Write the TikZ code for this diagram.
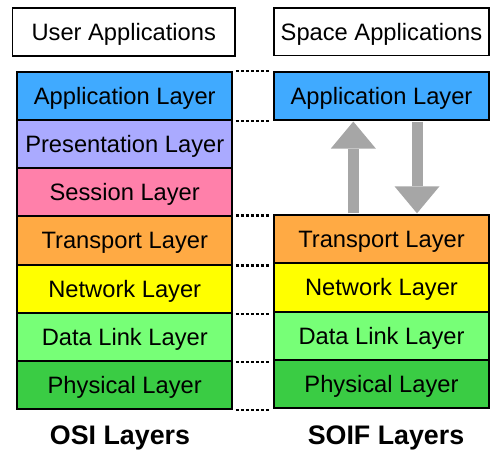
\documentclass[tikz,border=0pt]{standalone}
\usepackage{fontspec}
\setmainfont{Liberation Sans}
\usetikzlibrary{arrows.meta}

\definecolor{appblue}{RGB}{64,170,255}
\definecolor{preslilac}{RGB}{170,170,255}
\definecolor{sesspink}{RGB}{255,128,170}
\definecolor{transorange}{RGB}{255,170,68}
\definecolor{netyellow}{RGB}{255,255,0}
\definecolor{linkgreen}{RGB}{119,255,119}
\definecolor{physgreen}{RGB}{58,204,68}
\definecolor{arrowgray}{RGB}{166,166,166}

\tikzset{
  layerbox/.style={draw=black, line width=2pt, minimum width=215pt, minimum height=48.15pt,
    inner sep=0pt, text height=16.9pt, text depth=0pt, font=\fontsize{23.7}{26}\selectfont},
  headbox/.style={draw=black, line width=1.6pt, minimum height=48pt, inner sep=0pt,
    text height=16.9pt, text depth=0pt, font=\fontsize{23.7}{26}\selectfont},
  stacktitle/.style={inner sep=0pt, text height=19.2pt, text depth=0pt,
    font=\bfseries\fontsize{26.8}{30}\selectfont},
  levelline/.style={line width=2.3pt, dash pattern=on 3pt off 2pt, shorten <=2.5pt, shorten >=3.5pt},
  blockarrow/.style={draw=arrowgray, line width=11pt,
    -{Triangle[width=45pt,length=27pt,line width=0pt]}, shorten <=1pt, shorten >=1pt},
}

\begin{document}
\begin{tikzpicture}[x=1pt, y=-1pt]
            \useasboundingbox (0,0) rectangle (490,451);
            % headers
            \node[headbox, minimum width=222.5pt] (uApps) at (123.75,32) {User Applications};
            \node[headbox, minimum width=215pt, minimum height=47.5pt] (sApps) at (381.5,31.75) {Space Applications};
            % OSI stack
            \node[layerbox, fill=appblue] (oApp) at (124.75,96.075) {Application Layer};
            \node[layerbox, fill=preslilac] (oPre) at (124.75,144.225) {Presentation Layer};
            \node[layerbox, fill=sesspink] (oSes) at (124.75,192.375) {Session Layer};
            \node[layerbox, fill=transorange] (oTra) at (124.75,240.525) {Transport Layer};
            \node[layerbox, fill=netyellow] (oNet) at (124.75,288.675) {Network Layer};
            \node[layerbox, fill=linkgreen] (oLnk) at (124.75,336.825) {Data Link Layer};
            \node[layerbox, fill=physgreen] (oPhy) at (124.75,384.975) {Physical Layer};
            % SOIF stack
            \node[layerbox, fill=appblue, minimum height=47.5pt] (sApp) at (381.5,95.8) {Application Layer};
            \node[layerbox, fill=transorange] (sTra) at (381.5,239.4) {Transport Layer};
            \node[layerbox, fill=netyellow] (sNet) at (381.5,287.5) {Network Layer};
            \node[layerbox, fill=linkgreen] (sLnk) at (381.5,335.7) {Data Link Layer};
            \node[layerbox, fill=physgreen] (sPhy) at (381.5,383.8) {Physical Layer};
            % titles
            \node[stacktitle] (oTitle) at (120,435.3) {OSI Layers};
            \node[stacktitle] (sTitle) at (386,435.3) {SOIF Layers};
            % level lines
            \draw[levelline] (oApp.north east) -- (oApp.north east -| sApp.west);
            \draw[levelline] (oApp.south east) -- (oApp.south east -| sApp.west);
            \draw[levelline] (oTra.north east) -- (oTra.north east -| sTra.west);
            \draw[levelline] (oTra.south east) -- (oTra.south east -| sTra.west);
            \draw[levelline] (oNet.south east) -- (oNet.south east -| sNet.west);
            \draw[levelline] (oLnk.south east) -- (oLnk.south east -| sLnk.west);
            \draw[levelline] (oPhy.south east) -- (oPhy.south east -| sPhy.west);
            % up and down
            \draw[blockarrow] ([xshift=-28.2pt]sTra.north) -- ([xshift=-28.2pt]sApp.south);
            \draw[blockarrow] ([xshift=35.5pt]sApp.south) -- ([xshift=35.5pt]sTra.north);
\end{tikzpicture}
\end{document}
